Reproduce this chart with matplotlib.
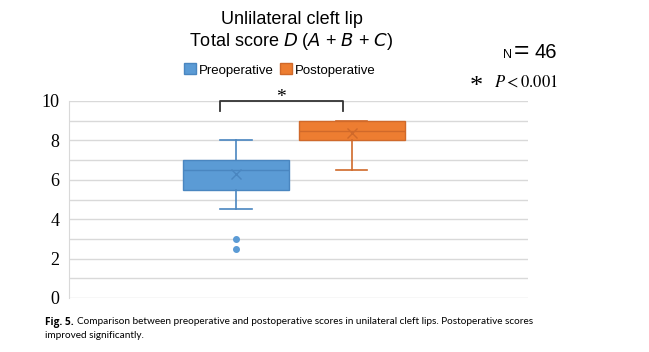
import matplotlib.pyplot as plt

# data
groups = ['Preoperative', 'Postoperative']
q1 = [5.5, 8.0]
median = [6.5, 8.5]
q3 = [7.0, 9.0]
whis_lo = [4.5, 6.5]
whis_hi = [8.0, 9.0]
means = [6.3, 8.4]
outliers = [[3.0, 2.5], []]

fill_cols = ['#5B9BD5', '#ED7D31']
edge_cols = ['#4A86C0', '#D0692A']

fig = plt.figure(figsize=(6.49, 3.52), dpi=100)
ax = fig.add_axes([69 / 649, 1 - 298 / 352, (528 - 69) / 649, (298 - 101) / 352])

stats = []
for i, g in enumerate(groups):
    stats.append(dict(label=g, q1=q1[i], med=median[i], q3=q3[i],
                      whislo=whis_lo[i], whishi=whis_hi[i],
                      mean=means[i], fliers=outliers[i]))

for i, s in enumerate(stats):
    ax.bxp([s], positions=[i + 1], widths=0.91, patch_artist=True,
           showmeans=True, capwidths=0.27,
           boxprops=dict(facecolor=fill_cols[i], edgecolor=edge_cols[i], lw=1),
           medianprops=dict(color=edge_cols[i], lw=1),
           whiskerprops=dict(color=edge_cols[i], lw=1.2),
           capprops=dict(color=edge_cols[i], lw=1.2),
           meanprops=dict(marker='x', markeredgecolor=edge_cols[i], markersize=7, mew=1),
           flierprops=dict(marker='o', markerfacecolor=fill_cols[i],
                           markeredgecolor=fill_cols[i], markersize=4))

ax.set_xlim(-0.44, 3.52)
ax.set_ylim(0, 10)
ax.set_yticks([0, 2, 4, 6, 8, 10])
ax.set_yticks(range(0, 11), minor=True)
ax.grid(True, axis='y', which='both', color='#D9D9D9', lw=1)
ax.set_axisbelow(True)
ax.set_xticks([])
for side in ['top', 'right', 'bottom']:
    ax.spines[side].set_visible(False)
ax.spines['left'].set_color('#D9D9D9')
ax.tick_params(axis='y', which='both', length=0, pad=7)
for t in ax.get_yticklabels():
    t.set_fontfamily('Liberation Serif')
    t.set_fontsize(13)

# significance bracket
ax.plot([0.86, 0.86, 1.92, 1.92], [9.5, 10.0, 10.0, 9.5], color='#333333',
        lw=1.3, clip_on=False)
ax.text(1.39, 9.75, '*', ha='center', va='bottom', fontsize=14,
        family='Liberation Serif', clip_on=False)

# titles
fig.text(292 / 649, 1 - 20 / 352, 'Unlilateral cleft lip', ha='center', va='center',
         fontsize=13, family='Liberation Sans')
fig.text(291 / 649, 1 - 42 / 352, 'Total score $D$ ($A$ + $B$ + $C$)', ha='center',
         va='center', fontsize=13, family='Liberation Sans')

# legend
handles = [plt.Rectangle((0, 0), 1, 1, facecolor=fill_cols[i], edgecolor=edge_cols[i])
           for i in range(2)]
fig.legend(handles, groups, loc='center', bbox_to_anchor=(280 / 649, 1 - 70 / 352),
           ncol=2, frameon=False, handlelength=0.9, handleheight=0.9,
           handletextpad=0.2, columnspacing=0.5,
           prop=dict(family='Liberation Sans', size=9.5))

# annotations on the right
fig.text(503 / 649, 1 - 58 / 352, 'N', ha='left', va='baseline',
         fontsize=9, family='Liberation Sans')
fig.text(514 / 649, 1 - 58 / 352, '=', ha='left', va='baseline',
         fontsize=19, family='Liberation Sans')
fig.text(557 / 649, 1 - 58 / 352, '46', ha='right', va='baseline',
         fontsize=14.5, family='Liberation Sans')
fig.text(470 / 649, 1 - 93 / 352, '*', ha='left', va='baseline',
         fontsize=19, family='Liberation Serif')
fig.text(558 / 649, 1 - 87 / 352, r'$P<0.001$', ha='right', va='baseline',
         fontsize=12, math_fontfamily='stix')

# caption
cap_bold = fig.text(45 / 649, 1 - 322 / 352, 'Fig. 5.', ha='left', va='center',
                    fontsize=7.2, family='Open Sans', weight='bold')
fig.canvas.draw()
bb = cap_bold.get_window_extent()
fig.text((bb.x1 + 3) / 649, 1 - 322 / 352,
         'Comparison between preoperative and postoperative scores in unilateral '
         'cleft lips. Postoperative scores',
         ha='left', va='center', fontsize=7.2, family='Lato')
fig.text(45 / 649, 1 - 336 / 352, 'improved significantly.', ha='left',
         va='center', fontsize=7.2, family='Lato')

fig.savefig('out.png', dpi=100)
